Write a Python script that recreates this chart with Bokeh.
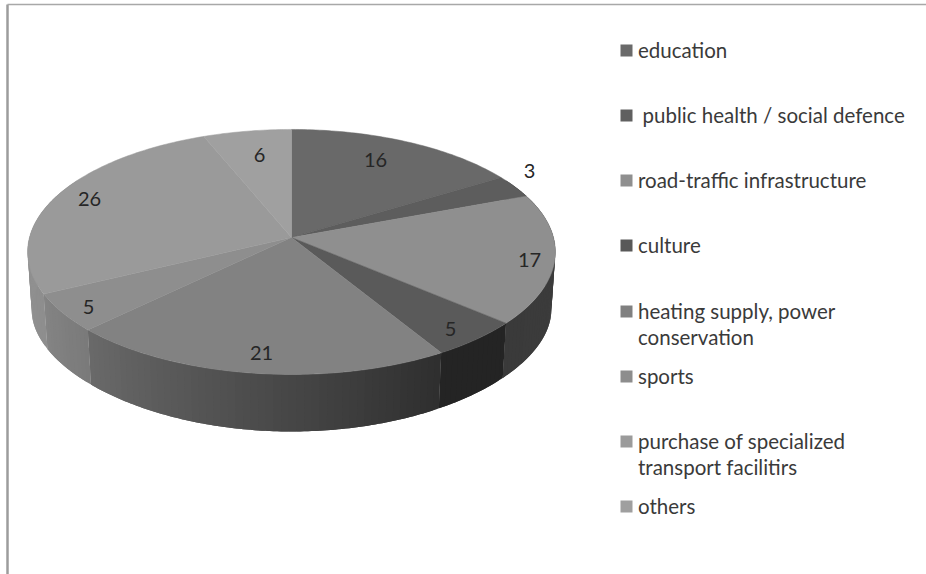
import math

from bokeh.core.properties import value
from bokeh.embed import file_html
from bokeh.plotting import figure
from bokeh.resources import INLINE

# Chart data
categories = [
    "education",
    " public health / social defence",
    "road-traffic infrastructure",
    "culture",
    "heating supply, power\nconservation",
    "sports",
    "purchase of specialized\ntransport facilitirs",
    "others",
]
shares = [16, 3, 17, 5, 21, 5, 26, 6]

# Styling per slice: top face, swatch, wall shade at start and end of the slice
top_colors = ["#696969", "#5d5d5d", "#8f8f8f", "#5a5a5a", "#828282", "#8e8e8e", "#9a9a9a", "#a0a0a0"]
swatch_colors = ["#6a6a6a", "#606060", "#8f8f8f", "#585858", "#808080", "#8d8d8d", "#9b9b9b", "#9f9f9f"]
wall_start = [60, 60, 62, 36, 46, 122, 142, 150]
wall_end = [60, 60, 58, 36, 106, 132, 148, 150]

# Layout of the value labels and legend rows
label_x = [375, 529, 529, 450, 261, 88, 89, 259]
label_y = [159, 170, 259, 328, 352, 306, 198, 154]
legend_y = [50, 115, 180, 245, 311, 376, 441, 506]
legend_line = 26

W, H = 926, 574
CX, CY = 291, 237

# Perspective view of the pie disc, with the far edge smaller than the near edge
TOP_A, TOP_B, K_TOP = 262, 120.8, 0.118
BASE_A, BASE_B, K_BASE, BASE_DROP = 258, 108, 0.2, 59


def top_point(deg):
    t = math.radians(deg)
    u, v = math.sin(t), math.cos(t)
    w = 1 + K_TOP * v
    return CX + TOP_A * u / w, CY - TOP_B * v / w


def base_point(deg):
    t = math.radians(deg)
    u, v = math.sin(t), math.cos(t)
    return (
        CX + BASE_A * u / (1 + K_TOP * v),
        CY + BASE_DROP - BASE_B * v / (1 + K_BASE * v),
    )


def gray(level):
    g = int(round(level))
    return f"#{g:02x}{g:02x}{g:02x}"


def frange(a, b, step):
    n = max(2, int(math.ceil((b - a) / step)) + 1)
    return [a + (b - a) * i / (n - 1) for i in range(n)]


total = sum(shares)
edges = [0.0]
for s in shares:
    edges.append(edges[-1] + s * 360.0 / total)

p = figure(
    width=W, height=H, x_range=(0, W), y_range=(H, 0),
    output_backend="svg", toolbar_location=None, min_border=0,
    background_fill_color="white", border_fill_color="white",
    outline_line_color=None,
)
p.axis.visible = False
p.grid.visible = False

# Frame lines at the top and left of the panel
p.line([7, 7], [H, 4], line_color="#9c9c9c", line_width=2.5)
p.line([7, W], [4, 4], line_color="#a8a8a8", line_width=1.6)

# Wall of the disc: each shaded strip runs on under the next one, which hides the seams
wall_xs, wall_ys, wall_colors = [], [], []
for i, (a, b) in enumerate(zip(edges[:-1], edges[1:])):
    lo, hi = max(a, 60), min(b, 300)
    if hi <= lo:
        continue
    angles = frange(lo, hi, 1.5)
    for d0, d1 in zip(angles[:-1], angles[1:]):
        t = ((d0 + d1) / 2 - a) / (b - a)
        end = min(d1 + 1.5, hi)
        arc = frange(d0, end, 0.75)
        upper = [top_point(d) for d in arc]
        lower = [base_point(d) for d in reversed(arc)]
        wall_xs.append([q[0] for q in upper + lower])
        wall_ys.append([q[1] for q in upper + lower])
        wall_colors.append(gray(wall_start[i] + (wall_end[i] - wall_start[i]) * t))
p.patches(wall_xs, wall_ys, fill_color=wall_colors, line_color=None)

# Top face slices
for i, (a, b) in enumerate(zip(edges[:-1], edges[1:])):
    rim = [top_point(d) for d in frange(a, b, 1.0)]
    xs = [CX] + [r[0] for r in rim]
    ys = [CY] + [r[1] for r in rim]
    p.patch(xs, ys, fill_color=top_colors[i], line_color=top_colors[i], line_width=0.5)

# Value labels
p.text(
    label_x, label_y, text=[str(s) for s in shares],
    text_font=value("Lato"), text_font_size="20px", text_color="#262626",
    text_align="center", text_baseline="middle",
)

# Legend swatches and text
p.rect([626] * len(legend_y), legend_y, width=12, height=12,
       fill_color=swatch_colors, line_color=None)
for name, y in zip(categories, legend_y):
    for j, line in enumerate(name.split("\n")):
        # The leading space of a label widens its offset from the swatch
        x = 642 if line.startswith(" ") else 637.5
        p.text(
            [x], [y - 1 + j * legend_line], text=[line.strip()],
            text_font=value("Lato"), text_font_size="20.5px", text_color="#3a3a3a",
            text_align="left", text_baseline="middle",
        )

open("out.html", "w").write(file_html(p, INLINE))
